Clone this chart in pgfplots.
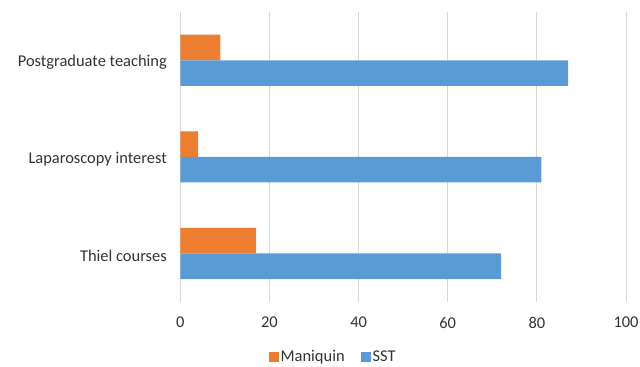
\documentclass[border=0pt]{standalone}
\usepackage{fontspec}
\setmainfont{Carlito}
\usepackage{pgfplots}
\pgfplotsset{compat=1.18}
\definecolor{mOrange}{HTML}{ED7D31}
\definecolor{mBlue}{HTML}{5B9BD5}
\definecolor{gridc}{HTML}{D9D9D9}
\definecolor{txt}{HTML}{333333}
\begin{document}
\begin{tikzpicture}
\useasboundingbox (0,0) rectangle (640bp,367bp);
\begin{axis}[
  at={(180.3bp,65.3bp)}, anchor=south west,
  scale only axis,
  width=445.7bp, height=289.7bp,
  xmin=0, xmax=100,
  ymin=-0.5, ymax=2.5,
  xtick={0,20,40,60,80,100},
  ytick={0,1,2},
  yticklabels={Thiel courses, Laparoscopy interest, Postgraduate teaching},
  xmajorgrids, major grid style={gridc, line width=1bp},
  axis line style={draw=none},
  major tick length=0pt,
  tick label style={font=\fontsize{16.5}{19}\selectfont, text=txt},
  /pgf/number format/assume math mode=true,
  yticklabel style={xshift=-10bp, yshift=-2bp},
  xticklabel style={yshift=-12bp},
  xbar, bar width=0.265,
  legend style={at={(0.343,-0.19)}, anchor=center, draw=none, legend columns=2,
    font=\fontsize{16.5}{19}\selectfont, text=txt,
    /tikz/every even column/.append style={column sep=14bp}},
  legend image code/.code={\fill[#1] (0bp,-5bp) rectangle (10bp,5bp);},
]
\addplot[fill=mOrange, draw=none, bar shift=0.1325] coordinates {(17,0) (4,1) (9,2)};
\addplot[fill=mBlue, draw=none, bar shift=-0.1325] coordinates {(72,0) (81,1) (87,2)};
\legend{Maniquin, SST}
\end{axis}
\end{tikzpicture}
\end{document}
